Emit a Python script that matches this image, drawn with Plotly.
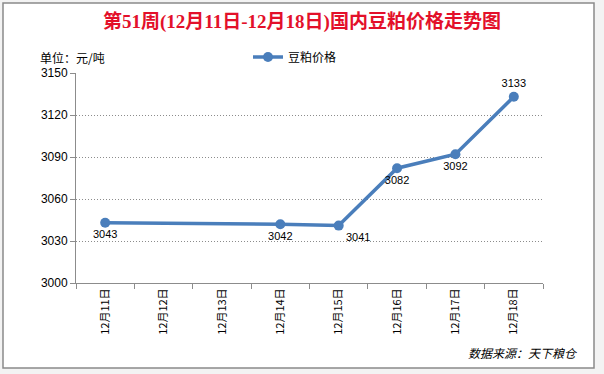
import plotly.graph_objects as go

categories = ["12月11日", "12月12日", "12月13日", "12月14日", "12月15日", "12月16日", "12月17日", "12月18日"]
prices = [3043, None, None, 3042, 3041, 3082, 3092, 3133]
label_positions = ["bottom center", "bottom center", "bottom center", "bottom center",
                   "bottom right", "bottom center", "bottom center", "top center"]
y_ticks = [3000, 3030, 3060, 3090, 3120, 3150]

W, H = 604, 374
L, R, T, B = 76, 61, 73, 91
pw, ph = W - L - R, H - T - B

def px_x(x):
    return (x - L) / pw

def px_y(y):
    return (H - B - y) / ph

blue = "#4a7ebb"
fig = go.Figure()
fig.add_trace(go.Scatter(
    x=categories, y=prices, name="豆粕价格", mode="lines+markers+text",
    connectgaps=True,
    line=dict(color=blue, width=3.5),
    marker=dict(color=blue, size=10),
    text=[str(v) if v is not None else "" for v in prices],
    textposition=label_positions,
    textfont=dict(size=11, color="#000000", family="Liberation Sans, Arial"),
    cliponaxis=False,
))

fig.update_layout(
    width=W, height=H,
    margin=dict(l=L, r=R, t=T, b=B, autoexpand=False),
    paper_bgcolor="#f3f3f3",
    plot_bgcolor="#ffffff",
    showlegend=True,
    legend=dict(orientation="h", x=px_x(248), y=px_y(57), xanchor="left", yanchor="middle",
                font=dict(size=12, color="#000000", family="Noto Sans CJK SC"),
                bgcolor="rgba(0,0,0,0)", itemwidth=30),
    xaxis=dict(
        type="category", categoryorder="array", categoryarray=categories,
        range=[-0.5, len(categories) - 0.5],
        tickangle=-90, tickson="boundaries", automargin=False,
        ticks="outside", ticklen=5, tickcolor="#8c8c8c",
        showline=True, linecolor="#8c8c8c", linewidth=1,
        showgrid=False,
        tickfont=dict(size=11, color="#000000", family="Noto Sans CJK SC"),
    ),
    yaxis=dict(
        range=[3000, 3150], tickvals=y_ticks, ticktext=[str(v) for v in y_ticks],
        automargin=False,
        ticks="outside", ticklen=5, tickcolor="#8c8c8c",
        showline=True, linecolor="#8c8c8c", linewidth=1,
        showgrid=True, gridcolor="#8c8c8c", griddash="1px,2px", gridwidth=1,
        zeroline=False,
        tickfont=dict(size=12, color="#000000", family="Liberation Sans, Arial"),
    ),
)

# chart border box
fig.add_shape(type="rect", xref="paper", yref="paper",
              x0=px_x(3), x1=px_x(594), y0=px_y(368), y1=px_y(3),
              line=dict(color="#8a8a8a", width=1.5), fillcolor="#ffffff", layer="below")

fig.add_annotation(
    text="<b>第51周(12月11日-12月18日)国内豆粕价格走势图</b>",
    xref="paper", yref="paper", x=px_x(302), y=px_y(22), xanchor="center", yanchor="middle",
    showarrow=False, font=dict(size=19, color="#e3102a", family="Liberation Serif, Noto Sans CJK SC"))
fig.add_annotation(
    text="单位：元/吨", xref="paper", yref="paper", x=px_x(38), y=px_y(57),
    xanchor="left", yanchor="middle", showarrow=False,
    font=dict(size=12, color="#000000", family="Noto Sans CJK SC"))
fig.add_annotation(
    text="<i>数据来源：天下粮仓</i>", xref="paper", yref="paper", x=px_x(580), y=px_y(352),
    xanchor="right", yanchor="middle", showarrow=False,
    font=dict(size=12, color="#000000", family="Noto Sans CJK SC"))

fig.write_html("out.html", config={"displayModeBar": False},
               post_script="document.body.style.margin='0';")
